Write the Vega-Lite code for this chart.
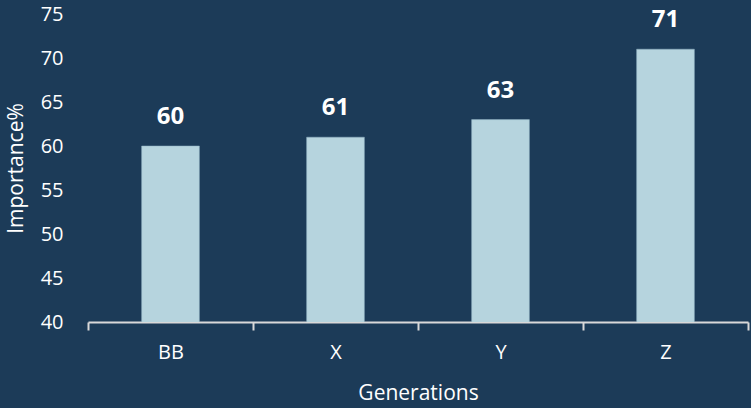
{
  "$schema": "https://vega.github.io/schema/vega-lite/v6.json",
  "width": 660,
  "height": 308,
  "autosize": {"type": "none"},
  "padding": {"left": 88, "top": 14, "right": 3, "bottom": 86},
  "background": "#1c3b58",
  "config": {
    "view": {"stroke": null},
    "font": "Open Sans",
    "axis": {
      "labelColor": "#ffffff",
      "titleColor": "#ffffff",
      "labelFont": "Open Sans",
      "titleFont": "Open Sans",
      "labelFontSize": 20,
      "titleFontSize": 21,
      "titleFontWeight": "normal",
      "grid": false
    }
  },
  "data": {
    "values": [
      {"generation": "BB", "importance": 60},
      {"generation": "X", "importance": 61},
      {"generation": "Y", "importance": 63},
      {"generation": "Z", "importance": 71}
    ]
  },
  "encoding": {
    "x": {
      "field": "generation",
      "type": "nominal",
      "sort": null,
      "scale": {"paddingInner": 0, "paddingOuter": 0},
      "axis": {
        "title": "Generations",
        "labelAngle": 0,
        "domainColor": "#d9d9d9",
        "domainWidth": 2,
        "tickColor": "#d9d9d9",
        "tickWidth": 2,
        "tickSize": 8,
        "tickBand": "extent",
        "labelPadding": 12,
        "titlePadding": 20
      }
    },
    "y": {
      "field": "importance",
      "type": "quantitative",
      "scale": {"domain": [40, 75], "zero": false, "nice": false},
      "axis": {
        "title": "Importance%",
        "values": [40, 45, 50, 55, 60, 65, 70, 75],
        "domain": false,
        "ticks": false,
        "labelPadding": 25,
        "titlePadding": 14
      }
    }
  },
  "layer": [
    {
      "mark": {"type": "bar", "width": {"band": 0.35}, "color": "#b6d4de", "stroke": "#8fb0c0", "strokeWidth": 0.5, "clip": true}
    },
    {
      "mark": {"type": "text", "baseline": "alphabetic", "dy": -22, "fontSize": 24, "fontWeight": "bold", "color": "#ffffff", "font": "Open Sans"},
      "encoding": {"text": {"field": "importance", "type": "quantitative"}}
    }
  ]
}
